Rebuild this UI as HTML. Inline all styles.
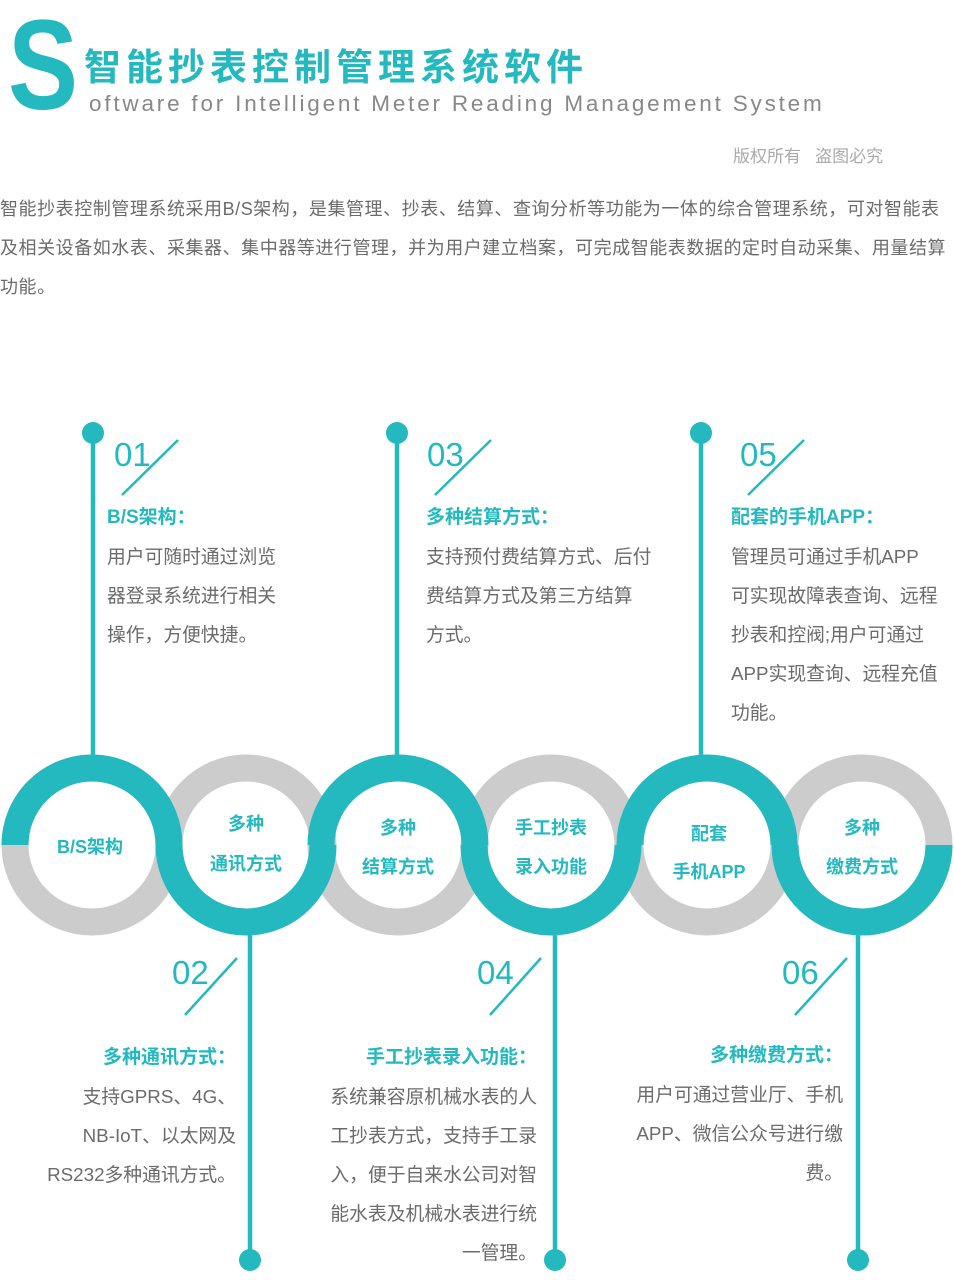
<!DOCTYPE html>
<html><head><meta charset="utf-8"><style>
body{margin:0;width:954px;height:1280px;background:#fff;position:relative;overflow:hidden;font-family:"Liberation Sans","Noto Sans CJK SC",sans-serif}
.a{position:absolute;white-space:nowrap}
.t{color:#6b6b6b;font-size:18.8px;line-height:39px}
.h{color:#24b8bf;font-size:19px;font-weight:bold;line-height:39px}
.n{color:#24b8bf;font-size:33px;line-height:33px}
.r{text-align:right}
</style></head><body>
<div class="a" style="left:8px;top:2px;font-size:128px;font-weight:bold;color:#24b8bf;line-height:128px;transform:scaleX(0.82);transform-origin:0 0">S</div>
<div class="a" style="left:84px;top:46px;font-size:37px;font-weight:bold;color:#24b8bf;letter-spacing:5px;line-height:44px">智能抄表控制管理系统软件</div>
<div class="a" style="left:89px;top:90px;font-size:22.5px;color:#888;letter-spacing:2.8px;line-height:28px">oftware for Intelligent Meter Reading Management System</div>
<div class="a" style="left:733px;top:146px;font-size:17px;color:#aaa;line-height:22px">版权所有&nbsp;&nbsp;&nbsp;盗图必究</div>
<div class="a t" style="left:0;top:190px;font-size:18px;letter-spacing:0.55px">智能抄表控制管理系统采用B/S架构，是集管理、抄表、结算、查询分析等功能为一体的综合管理系统，可对智能表<br>及相关设备如水表、采集器、集中器等进行管理，并为用户建立档案，可完成智能表数据的定时自动采集、用量结算<br>功能。</div>

<svg class="a" style="left:0;top:0" width="954" height="1280">
<g stroke="#24b8bf" stroke-width="4.5">
<line x1="93" y1="433" x2="93" y2="770"/><line x1="397" y1="433" x2="397" y2="770"/><line x1="701" y1="433" x2="701" y2="770"/>
<line x1="250" y1="920" x2="250" y2="1260"/><line x1="555" y1="920" x2="555" y2="1260"/><line x1="858" y1="920" x2="858" y2="1260"/>
<line x1="122" y1="495" x2="178" y2="440" stroke-width="2.5"/><line x1="435" y1="495" x2="491" y2="440" stroke-width="2.5"/><line x1="748" y1="495" x2="804" y2="440" stroke-width="2.5"/>
<line x1="185" y1="1015" x2="237" y2="958" stroke-width="2.5"/><line x1="490" y1="1015" x2="541" y2="958" stroke-width="2.5"/><line x1="795" y1="1015" x2="847" y2="958" stroke-width="2.5"/>
</g>
<g fill="#24b8bf"><circle cx="93" cy="433" r="11"/><circle cx="397" cy="433" r="11"/><circle cx="701" cy="433" r="11"/>
<circle cx="250" cy="1260" r="11"/><circle cx="555" cy="1260" r="11"/><circle cx="858" cy="1260" r="11"/></g>
<g fill="none" stroke="#cbcccb" stroke-width="27">
<circle cx="92" cy="845" r="77"/><circle cx="246" cy="845" r="77"/><circle cx="398" cy="845" r="77"/><circle cx="551" cy="845" r="77"/><circle cx="707" cy="845" r="77"/><circle cx="862" cy="845" r="77"/>
</g>
<g fill="none" stroke="#24b8bf" stroke-width="27">
<path d="M15 845 A77 77 0 0 1 169 845"/>
<path d="M169 845 A77 77 0 0 0 323 845"/>
<path d="M321 845 A77 77 0 0 1 475 845"/>
<path d="M474 845 A77 77 0 0 0 628 845"/>
<path d="M630 845 A77 77 0 0 1 784 845"/>
<path d="M785 845 A77 77 0 0 0 939 845"/>
</g>
<g fill="#24b8bf" font-size="18" font-weight="bold" text-anchor="middle" font-family="Liberation Sans,Noto Sans CJK SC,sans-serif">
<text x="90" y="853">B/S架构</text>
<text x="246" y="830">多种</text><text x="246" y="870">通讯方式</text>
<text x="398" y="834">多种</text><text x="398" y="873">结算方式</text>
<text x="551" y="834">手工抄表</text><text x="551" y="873">录入功能</text>
<text x="709" y="840">配套</text><text x="709" y="878">手机APP</text>
<text x="862" y="834">多种</text><text x="862" y="873">缴费方式</text>
</g>
</svg>

<div class="a n" style="left:114px;top:438px">01</div>
<div class="a n" style="left:427px;top:438px">03</div>
<div class="a n" style="left:740px;top:438px">05</div>
<div class="a n" style="left:172px;top:956px">02</div>
<div class="a n" style="left:477px;top:956px">04</div>
<div class="a n" style="left:782px;top:956px">06</div>

<div class="a" style="left:107px;top:498px"><div class="h">B/S架构：</div><div class="t">用户可随时通过浏览<br>器登录系统进行相关<br>操作，方便快捷。</div></div>
<div class="a" style="left:426px;top:498px"><div class="h">多种结算方式：</div><div class="t">支持预付费结算方式、后付<br>费结算方式及第三方结算<br>方式。</div></div>
<div class="a" style="left:731px;top:498px"><div class="h">配套的手机APP：</div><div class="t">管理员可通过手机APP<br>可实现故障表查询、远程<br>抄表和控阀;用户可通过<br>APP实现查询、远程充值<br>功能。</div></div>

<div class="a r" style="right:718px;top:1038px"><div class="h">多种通讯方式：</div><div class="t">支持GPRS、4G、<br>NB-IoT、以太网及<br>RS232多种通讯方式。</div></div>
<div class="a r" style="right:417px;top:1038px"><div class="h">手工抄表录入功能：</div><div class="t">系统兼容原机械水表的人<br>工抄表方式，支持手工录<br>入，便于自来水公司对智<br>能水表及机械水表进行统<br>一管理。</div></div>
<div class="a r" style="right:111px;top:1036px"><div class="h">多种缴费方式：</div><div class="t">用户可通过营业厅、手机<br>APP、微信公众号进行缴<br>费。</div></div>
</body></html>
